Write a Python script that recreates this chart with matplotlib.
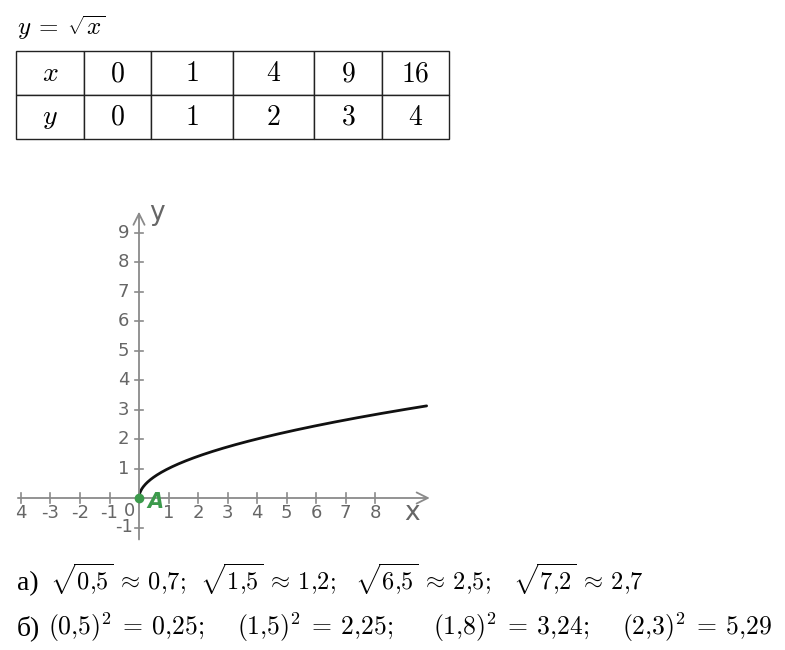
"""Recreate the y = sqrt(x) worksheet: value table, graph and answers."""

import matplotlib

matplotlib.use("Agg")
import matplotlib.pyplot as plt
import numpy as np

plt.rcParams["mathtext.fontset"] = "cm"

# value table for y = sqrt(x)
table_x = [0, 1, 4, 9, 16]
table_y = [0, 1, 2, 3, 4]

# graph axes
x_ticks = [-4, -3, -2, -1, 1, 2, 3, 4, 5, 6, 7, 8]
x_tick_labels = ["4", "-3", "-2", "-1", "1", "2", "3", "4", "5", "6", "7", "8"]
y_ticks = [-1, 1, 2, 3, 4, 5, 6, 7, 8, 9]
y_tick_labels = ["-1", "1", "2", "3", "4", "5", "6", "7", "8", "9"]
curve_x_max = 9.75

# answers
a_args = ["0,5", "1,5", "6,5", "7,2"]
a_vals = ["0,7", "1,2", "2,5", "2,7"]
b_args = ["0,5", "1,5", "1,8", "2,3"]
b_vals = ["0,25", "2,25", "3,24", "5,29"]

W, H = 785, 650
AXIS_COLOR = "#8a8a8a"
LABEL_COLOR = "#666666"
GREEN = "#3c9a4c"


def mt(s):
    """Decimal comma without extra mathtext spacing."""
    return s.replace(",", "{,}")


fig = plt.figure(figsize=(W / 100, H / 100), dpi=100)

# page axes in pixel coordinates
page = fig.add_axes([0, 0, 1, 1])
page.set_xlim(0, W)
page.set_ylim(H, 0)
page.axis("off")

page.text(17, 28, r"$y\:=\:\sqrt{x}$", fontsize=18, va="center", ha="left")

cells = [
    ["$x$"] + [f"${v}$" for v in table_x],
    ["$y$"] + [f"${v}$" for v in table_y],
]
tab = page.table(
    cellText=cells,
    cellLoc="center",
    colWidths=[68, 67, 82, 81, 68, 67],
    bbox=[16 / W, (H - 139) / H, 433 / W, 88 / H],
)
tab.auto_set_font_size(False)
tab.set_fontsize(20)
for cell in tab.get_celld().values():
    cell.set_linewidth(1.0)
    cell.set_edgecolor("#222222")

# graph axes: origin at (139, 498) px, 29.5 px per unit
ox, oy, unit = 139, 498, 29.5
xlim = (-4.5, 10.2)
ylim = (-1.8, 10.0)
left = ox + xlim[0] * unit
bottom = oy - ylim[0] * unit
g = fig.add_axes(
    [
        left / W,
        (H - bottom) / H,
        (xlim[1] - xlim[0]) * unit / W,
        (ylim[1] - ylim[0]) * unit / H,
    ]
)
g.set_xlim(*xlim)
g.set_ylim(*ylim)
g.axis("off")

arrow = dict(arrowstyle="->,head_length=0.8,head_width=0.4", color=AXIS_COLOR, lw=1.3)
g.annotate("", xy=(9.95, 0), xytext=(-4.2, 0), arrowprops=arrow)
g.annotate("", xy=(0, 9.8), xytext=(0, -1.5), arrowprops=arrow)

for t, lab in zip(x_ticks, x_tick_labels):
    g.plot([t, t], [-0.17, 0.17], color=AXIS_COLOR, lw=1.2)
    g.text(t, -0.52, lab, ha="center", va="center", fontsize=13, color=LABEL_COLOR)
g.text(-0.32, -0.45, "0", ha="center", va="center", fontsize=13, color=LABEL_COLOR)

for t, lab in zip(y_ticks, y_tick_labels):
    g.plot([-0.15, 0.15], [t, t], color=AXIS_COLOR, lw=1.2)
    g.text(-0.52, t, lab, ha="center", va="center", fontsize=13, color=LABEL_COLOR)

g.text(9.25, -0.5, "x", ha="center", va="center", fontsize=19, color=LABEL_COLOR)
g.text(0.6, 9.65, "y", ha="center", va="center", fontsize=19, color=LABEL_COLOR)

xs = np.linspace(0, curve_x_max, 400)
g.plot(xs, np.sqrt(xs), color="#111111", lw=2.0, solid_capstyle="round")

g.plot([table_x[0]], [table_y[0]], "o", color=GREEN, ms=6, zorder=5)
g.text(0.55, -0.12, "A", color=GREEN, fontsize=15, fontstyle="italic",
       fontweight="bold", ha="center", va="center")

# answers
page.text(17, 590, "а)", fontsize=20, family="Liberation Serif", va="baseline")
a_x = [50, 200, 355, 513]
for i, (x0, arg, val) in enumerate(zip(a_x, a_args, a_vals)):
    end = ";" if i < len(a_args) - 1 else ""
    page.text(x0, 590, rf"$\sqrt{{{mt(arg)}}}\:\approx\:{mt(val)}{end}$",
              fontsize=17.5, va="baseline", ha="left")

page.text(17, 635, "б)", fontsize=20, family="Liberation Serif", va="baseline")
b_x = [48, 237, 433, 622]
for i, (x0, arg, val) in enumerate(zip(b_x, b_args, b_vals)):
    end = ";" if i < len(b_args) - 1 else ""
    page.text(x0, 635, rf"$({mt(arg)})^2\:=\:{mt(val)}{end}$",
              fontsize=18.5, va="baseline", ha="left")

fig.savefig("out.png", dpi=100)
plt.close(fig)
